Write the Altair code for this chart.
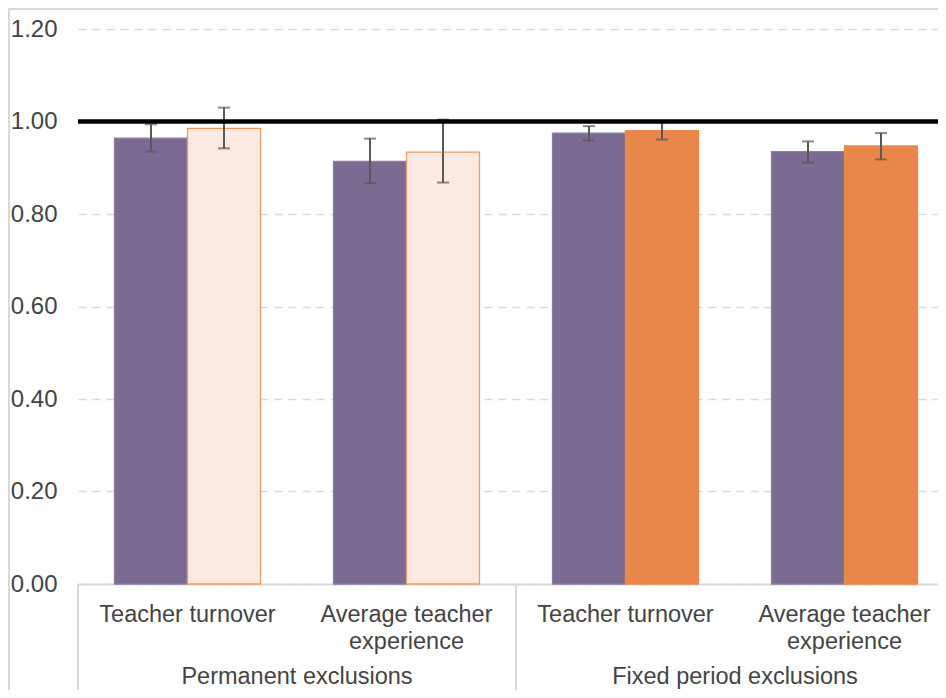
import altair as alt
import pandas as pd

# ---- data ----
cat_keys = ["c0", "c1", "c2", "c3"]
cat_labels = ["Teacher turnover", "Average teacher\nexperience",
              "Teacher turnover", "Average teacher\nexperience"]
group_labels = ["Permanent exclusions", "Fixed period exclusions"]
group_anchor = ["c1", "c3"]          # groups are centred on the edge of these bands
separator_at = ["c0", "c2"]          # group separators on the left edge of these bands

series_a = [0.964, 0.914, 0.975, 0.935]
series_a_lo = [0.935, 0.867, 0.959, 0.911]
series_a_hi = [0.994, 0.963, 0.990, 0.957]

series_b = [0.985, 0.934, 0.980, 0.947]
series_b_lo = [0.942, 0.868, 0.961, 0.918]
series_b_hi = [1.030, 1.004, 0.998, 0.975]
series_b_style = ["light", "light", "solid", "solid"]

y_ticks = [0.0, 0.2, 0.4, 0.6, 0.8, 1.0, 1.2]
reference_value = [1.0]

# ---- tables ----
rows = []
for i, k in enumerate(cat_keys):
    rows.append(dict(cat=k, pos=0, style="a", value=series_a[i], lo=series_a_lo[i], hi=series_a_hi[i]))
    rows.append(dict(cat=k, pos=1, style=series_b_style[i], value=series_b[i], lo=series_b_lo[i], hi=series_b_hi[i]))
df = pd.DataFrame(rows)
df_labels = pd.DataFrame(dict(cat=cat_keys, label=cat_labels))
df_groups = pd.DataFrame(dict(cat=group_anchor, label=group_labels))
df_sep = pd.DataFrame(dict(cat=separator_at))
df_ref = pd.DataFrame(dict(v=reference_value))

FONT = "Liberation Sans"
TXT = "#444444"
GRID = "#D9D9D9"

xscale = alt.Scale(domain=cat_keys, range=[0, 876], paddingInner=0, paddingOuter=0)
xoff = alt.XOffset("pos:N", scale=alt.Scale(domain=[0, 1], paddingOuter=0.5, paddingInner=0))
yscale = alt.Scale(domain=[0, 1.2], nice=False)

base = alt.Chart(df)

bars = base.mark_bar(strokeWidth=1.3).encode(
    x=alt.X("cat:N", scale=xscale,
            axis=alt.Axis(labels=False, ticks=False, title=None, grid=False,
                          domainColor=GRID, domainWidth=2)),
    xOffset=xoff,
    y=alt.Y("value:Q", scale=yscale,
            axis=alt.Axis(values=y_ticks, format=".2f", title=None, ticks=False, tickSize=0,
                          domain=False, grid=True, gridDash=[8, 6], gridColor=GRID, gridWidth=1.5,
                          labelFont=FONT, labelFontSize=24, labelColor=TXT, labelPadding=21)),
    color=alt.Color("style:N", legend=None,
                    scale=alt.Scale(domain=["a", "light", "solid"],
                                    range=["#7B6A92", "#FCE9E1", "#E9874B"])),
    stroke=alt.Stroke("style:N", legend=None,
                      scale=alt.Scale(domain=["a", "light", "solid"],
                                      range=["#8C7DA2", "#F09A62", "#E9874B"])),
)

err = base.mark_rule(color="#595959", strokeWidth=2).encode(
    x=alt.X("cat:N", scale=xscale), xOffset=xoff,
    y=alt.Y("lo:Q", scale=yscale), y2="hi:Q",
)
cap_lo = base.mark_tick(color="#595959", size=12, thickness=2, orient="horizontal").encode(
    x=alt.X("cat:N", scale=xscale), xOffset=xoff, y=alt.Y("lo:Q", scale=yscale),
)
cap_hi = base.mark_tick(color="#595959", size=12, thickness=2, orient="horizontal").encode(
    x=alt.X("cat:N", scale=xscale), xOffset=xoff, y=alt.Y("hi:Q", scale=yscale),
)

ref = alt.Chart(df_ref).mark_rule(color="black", strokeWidth=4.5).encode(
    y=alt.Y("v:Q", scale=yscale),
)

sub_labels = alt.Chart(df_labels).mark_text(
    font=FONT, fontSize=23.5, color=TXT, lineBreak="\n", lineHeight=27,
    baseline="alphabetic", align="center",
).encode(
    x=alt.X("cat:N", scale=xscale), y=alt.value(592.7), text="label:N",
)

grp_labels = alt.Chart(df_groups).mark_text(
    font=FONT, fontSize=23.5, color=TXT, baseline="alphabetic", align="center",
).encode(
    x=alt.X("cat:N", scale=xscale, bandPosition=0), y=alt.value(655), text="label:N",
)

seps = alt.Chart(df_sep).mark_rule(color=GRID, strokeWidth=2).encode(
    x=alt.X("cat:N", scale=xscale, bandPosition=0),
    y=alt.value(555), y2=alt.value(700),
)

frame_left = alt.Chart(df_ref).mark_rule(color=GRID, strokeWidth=2).encode(
    x=alt.value(-69), y=alt.value(-20), y2=alt.value(700),
)
frame_top = alt.Chart(df_ref).mark_rule(color=GRID, strokeWidth=2).encode(
    x=alt.value(-70), x2=alt.value(900), y=alt.value(-20),
)

chart = alt.layer(
    frame_left, frame_top, bars, err, cap_lo, cap_hi, ref, sub_labels, grp_labels, seps
).properties(
    width=860, height=555,
    autosize=alt.AutoSizeParams(type="none"),
    padding={"left": 70, "top": 21, "right": 0, "bottom": 106},
).configure_view(stroke=None)

chart.save("out.html", embed_options={"renderer": "svg", "actions": False})
